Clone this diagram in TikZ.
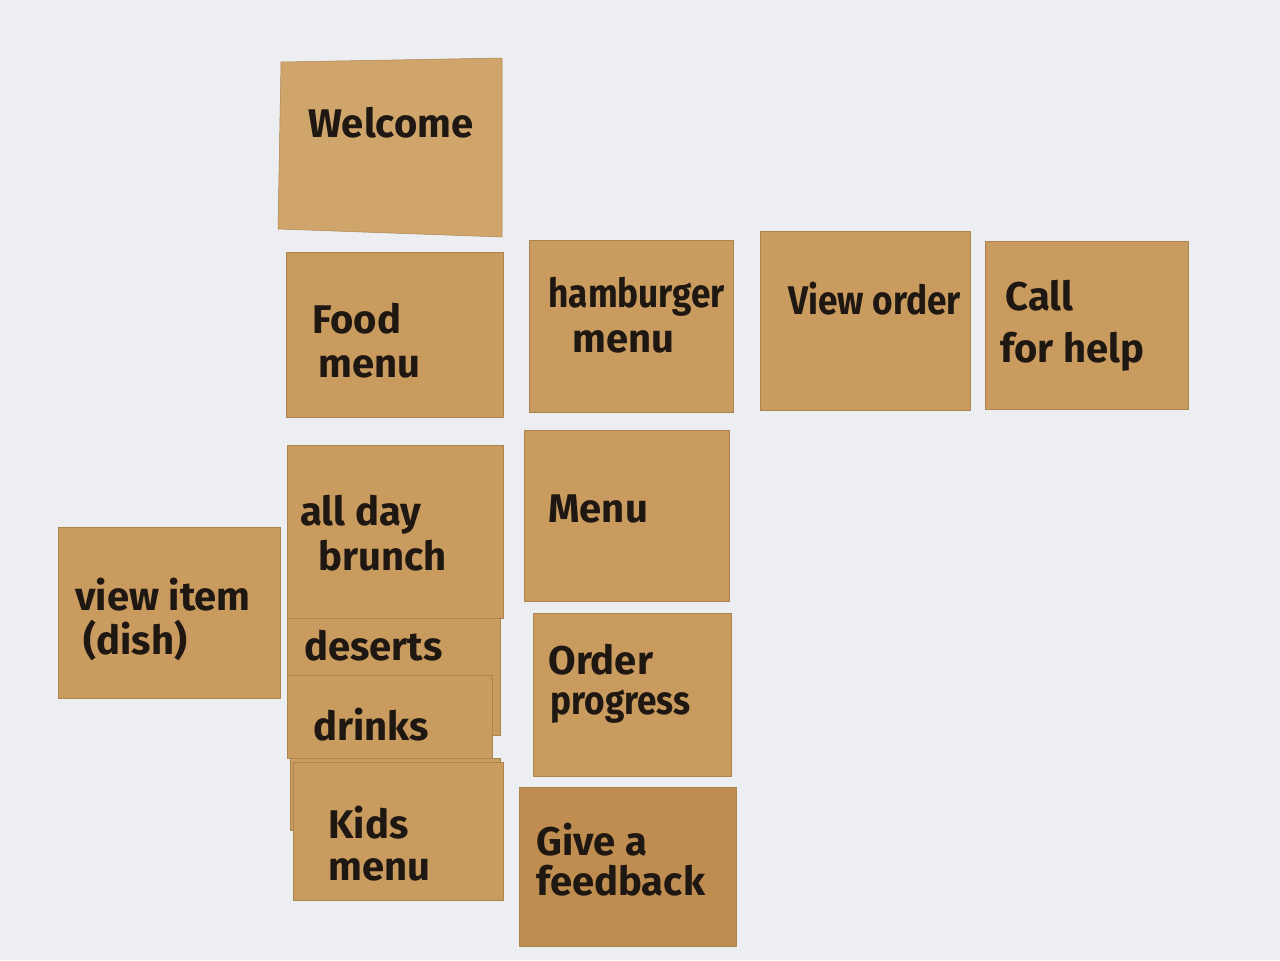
\documentclass[tikz,border=0pt]{standalone}
\usepackage{fontspec}
\setmainfont{Fira Sans}
\definecolor{bgc}{HTML}{ECEEF1}
\definecolor{paper}{HTML}{C99B5E}
\definecolor{paperlight}{HTML}{D0A56C}
\definecolor{paperdark}{HTML}{BF8D50}
\definecolor{ink}{HTML}{1E1712}
\tikzset{
  notebox/.style={fill=paper, draw=paper!85!black, line width=0.25pt},
  lbl/.style={anchor=base west, inner sep=0pt, text=ink, font=\fontsize{20}{24}\selectfont\bfseries},
}
\newcommand{\narrow}[1]{\scalebox{0.88}[1]{#1}}
\begin{document}
\begin{tikzpicture}[x=0.5pt,y=-0.5pt]
\fill[bgc] (0,0) rectangle (1280,960);
\useasboundingbox (0,0) rectangle (1280,960);
% notes
\path[notebox, fill=paperlight] (281,62) -- (502,58) -- (502,237) -- (278,229) -- cycle;
\path[notebox] (286,252) rectangle (503,417);
\path[notebox] (529,240) rectangle (733,412);
\path[notebox] (760,231) rectangle (970,410);
\path[notebox] (985,241) rectangle (1188,409);
\path[notebox] (524,430) rectangle (729,601);
\path[notebox] (58,527) rectangle (280,698);
\path[notebox] (287,615) rectangle (500,735);
\path[notebox] (287,445) rectangle (503,618);
\path[notebox] (287,675) rectangle (492,758);
\path[notebox] (290,758) rectangle (500,830);
\path[notebox] (293,762) rectangle (503,900);
\path[notebox] (533,613) rectangle (731,776);
\path[notebox, fill=paperdark] (519,787) rectangle (736,946);
% texts
\node[lbl] (welcome) at (308,137) {Welcome};
\node[lbl] (food1) at (312,333) {Food};
\node[lbl] (food2) at (318,377) {menu};
\node[lbl] (ham1) at (548,307) {\narrow{hamburger}};
\node[lbl] (ham2) at (572,352) {menu};
\node[lbl] (view) at (788,314) {\narrow{View order}};
\node[lbl] (call1) at (1005,310) {Call};
\node[lbl] (call2) at (1000,362) {for help};
\node[lbl] (brunch1) at (300,525) {all day};
\node[lbl] (brunch2) at (318,570) {brunch};
\node[lbl] (menu) at (548,522) {Menu};
\node[lbl] (item1) at (75,610) {view item};
\node[lbl] (item2) at (83,654) {(dish)};
\node[lbl] (deserts) at (304,660) {deserts};
\node[lbl] (drinks) at (313,740) {drinks};
\node[lbl] (kids1) at (328,838) {Kids};
\node[lbl] (kids2) at (328,880) {menu};
\node[lbl] (order1) at (548,674) {Order};
\node[lbl] (order2) at (550,714) {\narrow{progress}};
\node[lbl] (give1) at (536,855) {Give a};
\node[lbl] (give2) at (536,895) {feedback};
\end{tikzpicture}
\end{document}
